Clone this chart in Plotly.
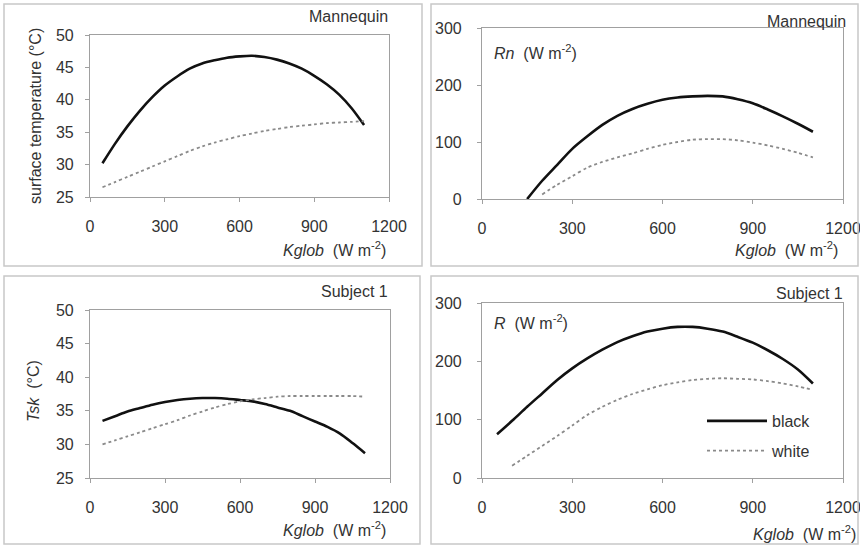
import plotly.graph_objects as go
from plotly.subplots import make_subplots

# Kglob (W m-2) values the curves were read at
kglob = [50, 100, 150, 200, 250, 300, 350, 400, 450, 500, 550,
         600, 650, 700, 750, 800, 850, 900, 950, 1000, 1050, 1100]

# Mannequin: surface temperature (°C)
mq_temp_black = [30.2, 33.2, 35.9, 38.3, 40.4, 42.2, 43.6, 44.8, 45.6, 46.1, 46.5,
                 46.7, 46.8, 46.6, 46.2, 45.6, 44.8, 43.7, 42.4, 40.8, 38.7, 36.1]
mq_temp_white = [26.5, 27.3, 28.1, 28.9, 29.7, 30.5, 31.3, 32.1, 32.8, 33.4, 33.9,
                 34.4, 34.8, 35.2, 35.5, 35.8, 36.0, 36.2, 36.4, 36.5, 36.6, 36.7]

# Mannequin: Rn (W m-2), curves start above 0
mq_rn_kglob_black = kglob[2:]
mq_rn_black = [0, 32, 60, 88, 110, 130, 146, 158, 167, 174, 178,
               180, 181, 180, 175, 168, 157, 145, 132, 118]
mq_rn_kglob_white = kglob[3:]
mq_rn_white = [8, 25, 40, 55, 65, 73, 80, 88, 95, 100,
               104, 105, 105, 103, 99, 94, 88, 81, 73]

# Subject 1: Tsk (°C)
s1_tsk_black = [33.5, 34.2, 34.9, 35.4, 35.9, 36.3, 36.6, 36.8, 36.9, 36.9, 36.8,
                36.6, 36.4, 36.0, 35.5, 35.0, 34.2, 33.4, 32.6, 31.6, 30.2, 28.7]
s1_tsk_white = [30.0, 30.6, 31.2, 31.8, 32.4, 33.0, 33.6, 34.3, 34.9, 35.5, 36.0,
                36.4, 36.7, 36.9, 37.1, 37.2, 37.2, 37.2, 37.2, 37.2, 37.2, 37.1]

# Subject 1: R (W m-2)
s1_r_black = [75, 98, 122, 145, 168, 188, 205, 220, 233, 243, 251,
              256, 259, 259, 256, 251, 242, 232, 219, 204, 186, 162]
s1_r_kglob_white = kglob[1:]
s1_r_white = [21, 38, 55, 72, 90, 108, 122, 134, 144, 152,
              159, 164, 168, 170, 171, 170, 169, 166, 162, 157, 151]

W, H = 860, 546
FONT = "Liberation Sans, Arial, sans-serif"
TXT = "#333333"
FS = 16


def px(x):
    return x / W


def py(y):
    return 1 - y / H


black_line = dict(color="#111111", width=2.6, shape="spline", smoothing=0.8)
white_line = dict(color="#8a8a8a", width=1.8, dash="3px,3px", shape="spline", smoothing=0.8)

fig = make_subplots(rows=2, cols=2)

panels = [
    (1, 1, kglob, mq_temp_black, kglob, mq_temp_white),
    (1, 2, mq_rn_kglob_black, mq_rn_black, mq_rn_kglob_white, mq_rn_white),
    (2, 1, kglob, s1_tsk_black, kglob, s1_tsk_white),
    (2, 2, kglob, s1_r_black, s1_r_kglob_white, s1_r_white),
]
for r, c, xb, yb, xw, yw in panels:
    last = (r, c) == (2, 2)
    fig.add_trace(go.Scatter(x=xb, y=yb, mode="lines", line=black_line, name="black",
                             legendgroup="b", showlegend=last), row=r, col=c)
    fig.add_trace(go.Scatter(x=xw, y=yw, mode="lines", line=white_line, name="white",
                             legendgroup="w", showlegend=last), row=r, col=c)

# plot-area positions (pixels -> paper)
boxes = {
    (1, 1): (90, 389, 35, 197),
    (1, 2): (482, 843, 28, 199),
    (2, 1): (90, 390, 310, 478),
    (2, 2): (482, 843, 303, 478),
}
axis_style = dict(showline=True, mirror=True, linecolor="#a0a0a0", linewidth=1.2,
                  showgrid=False, zeroline=False, ticks="outside", ticklen=4,
                  tickcolor="#a0a0a0", automargin=False,
                  tickfont=dict(family=FONT, size=FS, color=TXT))
for (r, c), (x0, x1, y0, y1) in boxes.items():
    fig.update_xaxes(domain=[px(x0), px(x1)], range=[0, 1200], dtick=300,
                     ticklabelstandoff=11, ticklabeloverflow="allow",
                     row=r, col=c, **axis_style)
    if c == 1:
        fig.update_yaxes(domain=[py(y1), py(y0)], range=[25, 50], dtick=5,
                         ticklabelstandoff=8, row=r, col=c, **axis_style)
    else:
        fig.update_yaxes(domain=[py(y1), py(y0)], range=[0, 300], dtick=100,
                         ticklabelstandoff=12, row=r, col=c, **axis_style)

# light frames around each chart
frames = [(4, 4, 422, 266), (431, 4, 858, 266), (4, 276, 420, 544), (431, 276, 858, 544)]
for x0, y0, x1, y1 in frames:
    fig.add_shape(type="rect", xref="paper", yref="paper",
                  x0=px(x0), x1=px(x1), y0=py(y1), y1=py(y0),
                  line=dict(color="#c8c8c8", width=1.5))

kglob_title = "<i>Kglob</i>  (W m<sup>-2</sup>)"
texts = [
    # (text, x, y, xanchor, angle)
    ("Mannequin", 390, 16, "right", 0),
    ("Mannequin", 848, 22, "right", 0),
    ("Subject 1", 390, 291, "right", 0),
    ("Subject 1", 845, 293, "right", 0),
    (kglob_title, 388, 249, "right", 0),
    (kglob_title, 840, 249, "right", 0),
    (kglob_title, 388, 529, "right", 0),
    (kglob_title, 858, 533, "right", 0),
    ("<i>Rn</i>  (W m<sup>-2</sup>)", 492, 52, "left", 0),
    ("<i>R</i>  (W m<sup>-2</sup>)", 492, 322, "left", 0),
    ("surface temperature (°C)", 35, 116, "center", -90),
    ("<i>Tsk</i>  (°C)", 33, 391, "center", -90),
]
for t, x, y, xa, ang in texts:
    fig.add_annotation(text=t, xref="paper", yref="paper", x=px(x), y=py(y),
                       xanchor=xa, yanchor="middle", textangle=ang, showarrow=False,
                       font=dict(family=FONT, size=FS, color=TXT))

fig.update_layout(
    width=W, height=H,
    margin=dict(l=0, r=0, t=0, b=0, autoexpand=False),
    paper_bgcolor="white", plot_bgcolor="white",
    font=dict(family=FONT, size=FS, color=TXT),
    legend=dict(x=px(702), y=py(404), xanchor="left", yanchor="top",
                bgcolor="rgba(0,0,0,0)", itemwidth=60, traceorder="grouped",
                tracegroupgap=6, font=dict(family=FONT, size=FS, color=TXT)),
)

# drop the browser's default body margin so the 860x546 figure fills the window
fig.write_html("out.html", config={"displayModeBar": False},
               post_script="document.body.style.margin='0px';")
